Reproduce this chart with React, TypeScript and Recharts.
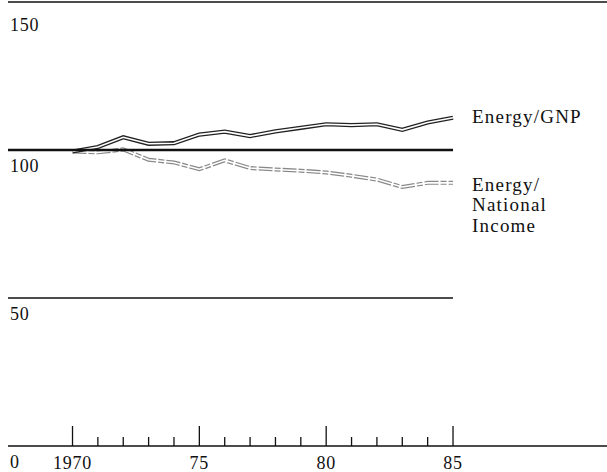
import React from "react";
import { LineChart, Line, XAxis, YAxis, ReferenceLine, LabelList } from "recharts";

const years = [1970, 1971, 1972, 1973, 1974, 1975, 1976, 1977, 1978, 1979, 1980, 1981, 1982, 1983, 1984, 1985];
const energyGnp = [99.5, 101, 104.3, 102.1, 102.3, 105.2, 106.2, 104.7, 106.3, 107.5, 108.7, 108.4, 108.7, 106.8, 109.3, 110.9];
const energyNationalIncome = [99.5, 99.2, 100.2, 96.7, 95.8, 93.5, 96.5, 93.9, 93.4, 93.0, 92.4, 91.3, 90.0, 87.5, 88.9, 88.9];

const majorYears = [1970, 1975, 1980, 1985];
const majorLabels = ["1970", "75", "80", "85"];
const yTicks = [0, 50, 100, 150];

const data = years.map((year, i) => ({
    year,
    gnp: energyGnp[i],
    income: energyNationalIncome[i],
}));

const xMin = 1967.457;
const xMax = 1991.07;
const font = "'Liberation Serif', 'Times New Roman', serif";

const XTick = (props: any) => {
    const { x, y, payload } = props;
    const idx = majorYears.indexOf(payload.value);
    const major = idx >= 0;
    return (
        <g>
            <line x1={x} x2={x} y1={y} y2={y - (major ? 20 : 9)} stroke="#111" strokeWidth={1.3} />
            {major && (
                <text x={x} y={y + 23} textAnchor="middle" fontFamily={font} fontSize={18} letterSpacing={0.8} fill="#111">
                    {majorLabels[idx]}
                </text>
            )}
        </g>
    );
};

const YTick = (props: any) => {
    const { x, y, payload } = props;
    return (
        <text x={x + 2} y={y + 22} textAnchor="start" fontFamily={font} fontSize={18} letterSpacing={0.8} fill="#111">
            {payload.value}
        </text>
    );
};

const EndLabel = (lines: string[], dy: number) => (props: any) => {
    const { x, y, index } = props;
    if (index !== years.length - 1) return null;
    return (
        <text x={x + 19} y={y + dy} fontFamily={font} fontSize={19} letterSpacing={1.2} fill="#111">
            {lines.map((t, i) => (
                <tspan key={t} x={x + 19} dy={i === 0 ? 0 : 20.5}>
                    {t}
                </tspan>
            ))}
        </text>
    );
};

const App: React.FC = () => {
    return (
        <div style={{ position: "absolute", left: 0, top: 0 }}>
            <LineChart width={607} height={472} data={data} margin={{ top: 2, right: 0, left: 0, bottom: 0 }}>
                <XAxis
                    dataKey="year"
                    type="number"
                    domain={[xMin, xMax]}
                    allowDataOverflow
                    ticks={years}
                    interval={0}
                    height={26}
                    tickSize={0}
                    tickMargin={0}
                    tickLine={false}
                    axisLine={{ stroke: "#111", strokeWidth: 1.5 }}
                    tick={<XTick />}
                />
                <YAxis
                    type="number"
                    domain={[0, 150]}
                    ticks={yTicks}
                    width={8}
                    tickSize={0}
                    tickMargin={0}
                    tickLine={false}
                    axisLine={false}
                    tick={<YTick />}
                />
                <ReferenceLine y={150} stroke="#111" strokeWidth={1.5} />
                <ReferenceLine segment={[{ x: xMin, y: 50 }, { x: 1985, y: 50 }]} stroke="#111" strokeWidth={1.5} />
                <Line dataKey="income" type="linear" stroke="#888" strokeWidth={4} strokeDasharray="14 2 6 2" dot={false} isAnimationActive={false} />
                <Line dataKey="income" type="linear" stroke="#fff" strokeWidth={1.6} dot={false} isAnimationActive={false}>
                    <LabelList dataKey="income" content={EndLabel(["Energy/", "National", "Income"], 8)} />
                </Line>
                <Line dataKey="gnp" type="linear" stroke="#222" strokeWidth={4.2} dot={false} isAnimationActive={false} />
                <Line dataKey="gnp" type="linear" stroke="#fff" strokeWidth={1.6} dot={false} isAnimationActive={false}>
                    <LabelList dataKey="gnp" content={EndLabel(["Energy/GNP"], 5)} />
                </Line>
                <ReferenceLine segment={[{ x: xMin, y: 100 }, { x: 1985, y: 100 }]} stroke="#111" strokeWidth={2.6} />
            </LineChart>
        </div>
    );
};

export default App;
